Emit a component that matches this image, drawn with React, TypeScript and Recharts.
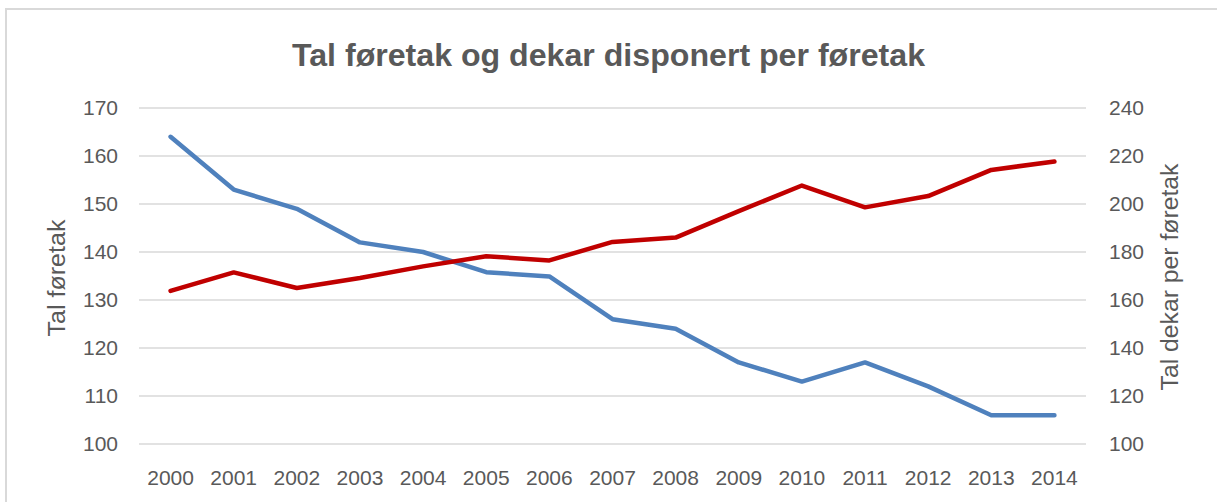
import React from 'react'
import { LineChart, Line, XAxis, YAxis, CartesianGrid } from 'recharts'

// ─── Data ────────────────────────────────────────────────────────────────────
const years = ['2000', '2001', '2002', '2003', '2004', '2005', '2006', '2007', '2008', '2009', '2010', '2011', '2012', '2013', '2014']
const talForetak = [164, 153, 149, 142, 140, 135.8, 134.9, 126, 124, 117, 113, 117, 112, 106, 106]
const dekarPerForetak = [163.8, 171.5, 165, 169.2, 174, 178.2, 176.5, 184.2, 186, 197, 207.7, 198.6, 203.3, 214.2, 217.7]
const leftTicks = [100, 110, 120, 130, 140, 150, 160, 170]
const rightTicks = [100, 120, 140, 160, 180, 200, 220, 240]

const title = 'Tal føretak og dekar disponert per føretak'
const leftLabel = 'Tal føretak'
const rightLabel = 'Tal dekar per føretak'

const data = years.map((y, i) => ({ year: y, foretak: talForetak[i], dekar: dekarPerForetak[i] }))

const TEXT = '#595959'
const FONT = '"Liberation Sans", Arial, sans-serif'
const tickStyle = { fill: TEXT, fontSize: 21, fontFamily: FONT }

export default function App() {
  return (
    <div style={{ position: 'absolute', left: 0, top: 0, width: 1217, height: 502, background: '#fff', overflow: 'hidden' }}>
      {/* chart frame, only top and left edges visible */}
      <div style={{ position: 'absolute', left: 5, top: 8, width: 1400, height: 700, border: '2px solid #d9d9d9' }} />

      <div style={{ position: 'absolute', left: 0, top: 0 }}>
        <LineChart width={1217} height={502} data={data} margin={{ top: 108, right: 0, bottom: 0, left: 0 }}>
          <CartesianGrid yAxisId="left" vertical={false} stroke="#d9d9d9" strokeWidth={1.3} />
          <XAxis
            dataKey="year"
            scale="band"
            axisLine={false}
            tickLine={false}
            tickSize={0}
            tickMargin={26}
            height={58}
            interval={0}
            tick={tickStyle}
          />
          <YAxis
            yAxisId="left"
            domain={[100, 170]}
            ticks={leftTicks}
            axisLine={false}
            tickLine={false}
            tickSize={0}
            tickMargin={21}
            width={139}
            tick={tickStyle}
          />
          <YAxis
            yAxisId="right"
            orientation="right"
            domain={[100, 240]}
            ticks={rightTicks}
            axisLine={false}
            tickLine={false}
            tickSize={0}
            tickMargin={23}
            width={131}
            tick={tickStyle}
          />
          <Line
            yAxisId="left"
            dataKey="foretak"
            stroke="#4f81bd"
            strokeWidth={4.5}
            strokeLinejoin="round"
            strokeLinecap="round"
            dot={false}
            isAnimationActive={false}
          />
          <Line
            yAxisId="right"
            dataKey="dekar"
            stroke="#c00000"
            strokeWidth={4.5}
            strokeLinejoin="round"
            strokeLinecap="round"
            dot={false}
            isAnimationActive={false}
          />
        </LineChart>
      </div>

      {/* title and axis titles */}
      <svg width={1217} height={502} style={{ position: 'absolute', left: 0, top: 0, pointerEvents: 'none' }}>
        <text x={292} y={66} fill={TEXT} fontFamily={FONT} fontWeight="bold" fontSize={31} textLength={633} lengthAdjust="spacingAndGlyphs">
          {title}
        </text>
        <text
          x={65}
          y={278}
          transform="rotate(-90, 65, 278)"
          textAnchor="middle"
          fill={TEXT}
          fontFamily={FONT}
          fontSize={23}
          textLength={117}
          lengthAdjust="spacingAndGlyphs"
        >
          {leftLabel}
        </text>
        <text
          x={1178}
          y={277}
          transform="rotate(-90, 1178, 277)"
          textAnchor="middle"
          fill={TEXT}
          fontFamily={FONT}
          fontSize={23}
          textLength={227}
          lengthAdjust="spacingAndGlyphs"
        >
          {rightLabel}
        </text>
      </svg>
    </div>
  )
}
